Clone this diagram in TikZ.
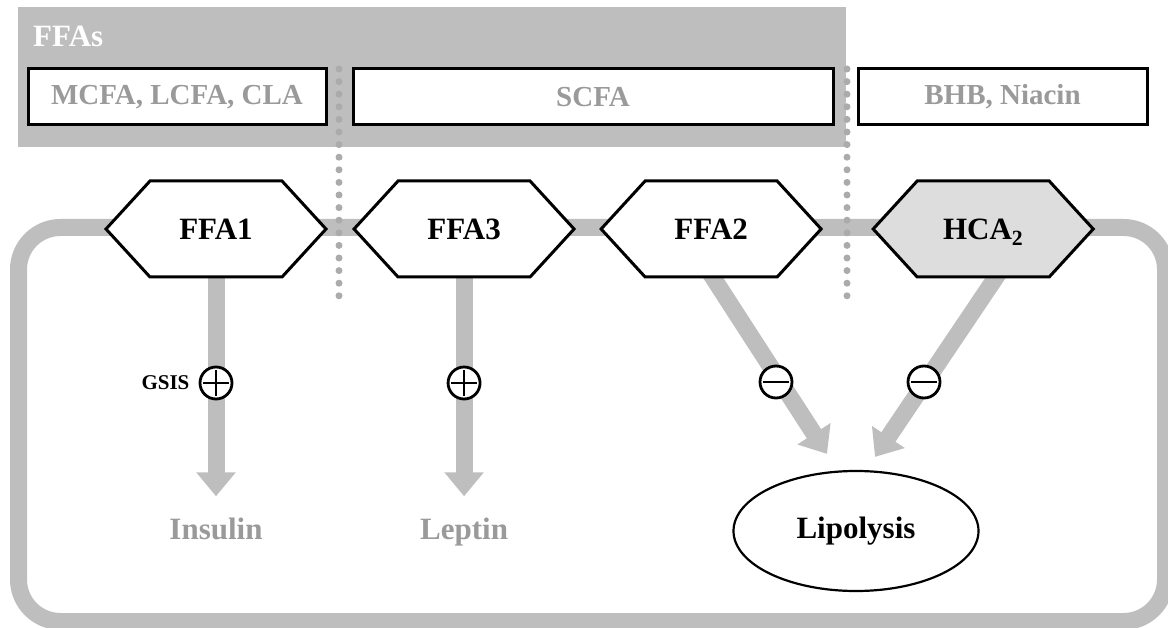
\documentclass[tikz,border=0pt]{standalone}
\usepackage{fontspec}
\setmainfont{Liberation Serif}
\usetikzlibrary{positioning,shapes.symbols,shapes.geometric,arrows.meta,backgrounds}

\definecolor{bandgray}{HTML}{BEBEBE}
\definecolor{textgray}{HTML}{9A9A9A}
\definecolor{dotgray}{HTML}{ABABAB}
\definecolor{hcafill}{HTML}{DDDDDD}

\begin{document}
\begin{tikzpicture}[x=1pt, y=-1pt,
  receptor/.style={signal, signal to=west and east, signal pointer angle=95, draw, line width=3pt, fill=white, minimum width=220pt, minimum height=96pt, inner sep=0pt, text height=21pt, text depth=0pt, font=\fontsize{31}{31}\selectfont\bfseries},
  ligandbox/.style={rectangle, draw, line width=3pt, fill=white, minimum height=56pt, text=textgray, font=\fontsize{29}{29}\selectfont\bfseries},
  fatarrow/.style={draw=bandgray, line width=17pt, -{Triangle[width=38pt, length=24pt]}},
  signnode/.style={circle, draw, fill=white, line width=2.8pt, minimum size=32pt, inner sep=0pt},
  upsign/.style={signnode, path picture={\draw[line width=2.6pt] ([xshift=-13pt]path picture bounding box.center) -- ([xshift=13pt]path picture bounding box.center) ([yshift=-13pt]path picture bounding box.center) -- ([yshift=13pt]path picture bounding box.center);}},
  downsign/.style={signnode, path picture={\draw[line width=2.6pt] ([xshift=-13pt]path picture bounding box.center) -- ([xshift=13pt]path picture bounding box.center);}},
  product/.style={inner sep=0pt, text=textgray, font=\fontsize{31}{31}\selectfont\bfseries}]
  \useasboundingbox (0,0) rectangle (1168,628);

  % ligand band and membrane
  \fill[bandgray] (18,7) rectangle (846,147);
  \node[anchor=base west, inner sep=0pt, text=white, font=\fontsize{31}{31}\selectfont\bfseries] (ffas) at (33,47) {FFAs};
  \draw[bandgray, line width=17pt, rounded corners=42pt] (18.5,227.5) rectangle (1165.5,621.5);
  \draw[dotgray, line width=7pt, line cap=round, dash pattern=on 0pt off 12.6pt] (339,69) -- (339,298);
  \draw[dotgray, line width=7pt, line cap=round, dash pattern=on 0pt off 12.6pt] (847,69) -- (847,298);

  \node[ligandbox, minimum width=298pt] (mcfa) at (177,97) {MCFA, LCFA, CLA};
  \node[ligandbox, minimum width=480pt] (scfa) at (593,97) {SCFA};
  \node[ligandbox, minimum width=289pt] (bhb) at (1002.5,97) {BHB, Niacin};

  % receptors
  \node[receptor] (ffa1) at (216,229) {FFA1};
  \node[receptor, right=24pt of ffa1] (ffa3) {FFA3};
  \node[receptor, right=23pt of ffa3] (ffa2) {FFA2};
  \node[receptor, fill=hcafill, right=48pt of ffa2] (hca2) {HCA\textsubscript{2}};

  % effects
  \node[product, anchor=base] (insulin) at (216,539) {Insulin};
  \node[product, anchor=base] (leptin) at (ffa3.south |- insulin.base) {Leptin};
  \node[ellipse, draw, line width=2.2pt, minimum width=245pt, minimum height=120pt, font=\fontsize{31}{31}\selectfont\bfseries] (lipo) at (856,531) {Lipolysis};

  \begin{scope}[on background layer]
    \draw[fatarrow] (ffa1.south) -- ([yshift=21pt]insulin.north);
    \draw[fatarrow] (ffa3.south) -- ([yshift=21pt]leptin.north);
    \draw[fatarrow] ([xshift=-4pt, yshift=10pt]ffa2.south) -- ([xshift=-29pt, yshift=16pt]lipo.north);
    \draw[fatarrow] ([xshift=18.6pt, yshift=10pt]hca2.south) -- ([xshift=19pt, yshift=13pt]lipo.north);
  \end{scope}

  \node[upsign] (plusa) at (216,383) {};
  \node[upsign] (plusb) at (ffa3.south |- plusa) {};
  \node[downsign] (minusa) at (776,382) {};
  \node[downsign] (minusb) at (924,382) {};
  \node[inner sep=0pt, left=9pt of plusa, font=\fontsize{21}{21}\selectfont\bfseries] (gsis) {GSIS};
\end{tikzpicture}
\end{document}
